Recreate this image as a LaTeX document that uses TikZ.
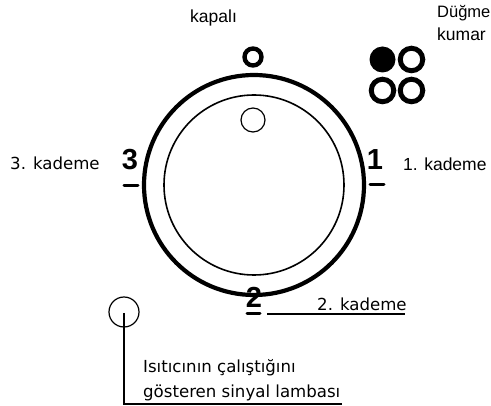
\documentclass[tikz,border=0pt]{standalone}
\usepackage{fontspec}
\setmainfont{Liberation Sans}
\newfontfamily\verd{DejaVu Sans}
\tikzset{
  ring/.style={circle,draw=black,fill=white,inner sep=0pt,minimum size=#1},
  labA/.style={inner sep=0pt,anchor=base west,font=\fontsize{17.5}{20}\selectfont},
  labC/.style={inner sep=0pt,anchor=base west,font=\fontsize{16.5}{20}\selectfont},
  labB/.style={inner sep=0pt,anchor=base west,font=\verd\fontsize{16.6}{20}\selectfont},
  num/.style={inner sep=0pt,font=\bfseries\fontsize{29}{32}\selectfont},
  bar/.style={line width=3pt,line cap=round},
  thinline/.style={line width=1.4pt}
}
\begin{document}
\begin{tikzpicture}[x=1pt,y=-1pt]
\useasboundingbox (0,0) rectangle (491,406);
\clip (0,0) rectangle (491,406);
% dial
\node[ring=220pt,line width=4.2pt] (outer) at (254,185) {};
\node[ring=180pt,line width=1.6pt] (inner) at (254,185) {};
\node[ring=24pt,line width=1.2pt] (knob) at (253,120) {};
\node[ring=17pt,line width=4.4pt] (off) at (253,57) {};
% mode symbol
\node[circle,fill=black,inner sep=0pt,minimum size=26pt] (d1) at (382.5,59.5) {};
\node[ring=22.5pt,line width=5pt] (d2) at (411.5,59.5) {};
\node[ring=22.5pt,line width=5pt] (d3) at (382.5,90.5) {};
\node[ring=22.5pt,line width=5pt] (d4) at (411.5,90.5) {};
% numbers
\node[num] (n3) at (130,160) {3};
\node[num] (n1) at (375,160) {1};
\node[num] (n2) at (254,297) {2};
\coordinate (b3a) at (124,186); \coordinate (b3b) at (138,186);
\coordinate (b1a) at (370,185); \coordinate (b1b) at (384,185);
\coordinate (b2a) at (247,314); \coordinate (b2b) at (260,314);
\draw[bar] (b3a) -- (b3b);
\draw[bar] (b1a) -- (b1b);
\draw[bar] (b2a) -- (b2b);
% labels
\node[labA] (kapali) at (190,23) {kapalı};
\node[labC] (dug) at (437,18) {Düğme};
\node[labA] (kum) at (437,41) {kumar};
\node[labB] (k3) at (10,170) {3. kademe};
\node[labA] (k1) at (403,171) {1. kademe};
\node[labB] (k2) at (317,311) {2. kademe};
\node[labB] (sig1) at (143,373) {Isıtıcının çalıştığını};
\node[labB] (sig2) at (143,398) {gösteren sinyal lambası};
% leaders
\coordinate (k2a) at (267,314); \coordinate (k2b) at (405,314);
\draw[thinline] (k2a) -- (k2b);
\node[ring=30pt,line width=1.2pt] (lamp) at (124,312) {};
\coordinate (lc) at (124,313); \coordinate (le) at (342,404);
\draw[thinline] (lc) |- (le);
\end{tikzpicture}
\end{document}
